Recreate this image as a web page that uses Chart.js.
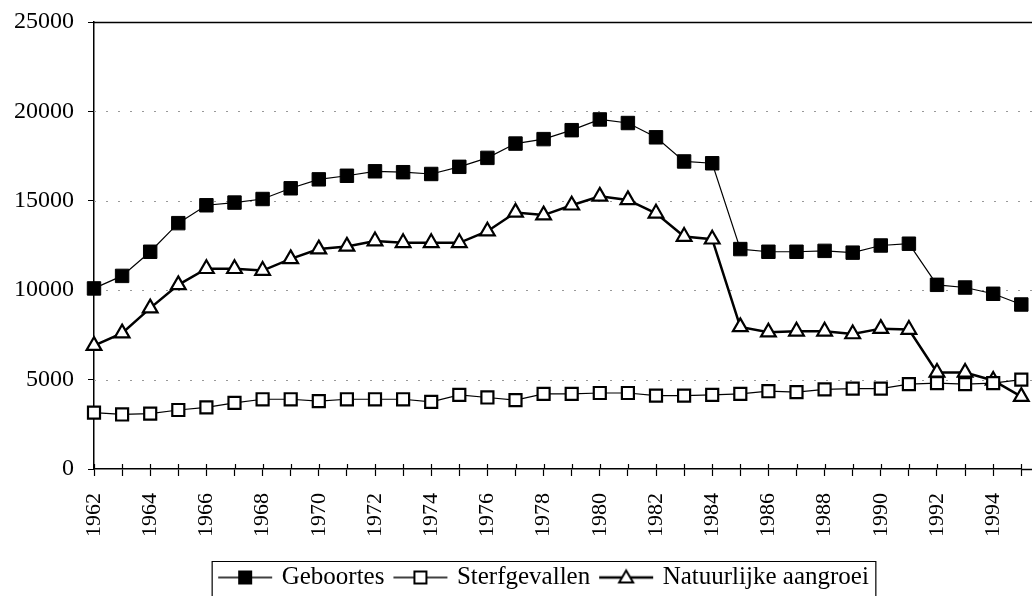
<!DOCTYPE html>
<html>
<head>
<meta charset="utf-8">
<script src="https://cdn.jsdelivr.net/npm/chart.js@4"></script>
<style>
  html, body { margin: 0; padding: 0; background: #fff; overflow: hidden; }
  #wrap { width: 1032px; height: 596px; }
</style>
</head>
<body>
<div id="wrap"><canvas id="lineChart" width="1032" height="596"></canvas></div>
<script>
const years = ['1962', '1963', '1964', '1965', '1966', '1967', '1968', '1969', '1970', '1971', '1972',
    '1973', '1974', '1975', '1976', '1977', '1978', '1979', '1980', '1981', '1982', '1983', '1984',
    '1985', '1986', '1987', '1988', '1989', '1990', '1991', '1992', '1993', '1994', '1995'];

const geboortes = [10100, 10800, 12150, 13750, 14750, 14900, 15100, 15700, 16200, 16400, 16650,
    16600, 16500, 16900, 17400, 18200, 18450, 18950, 19550, 19350, 18550, 17200, 17100,
    12300, 12150, 12150, 12200, 12100, 12500, 12600, 10300, 10150, 9800, 9200];

const sterfgevallen = [3150, 3050, 3100, 3300, 3450, 3700, 3900, 3900, 3800, 3900, 3900,
    3900, 3750, 4150, 4000, 3850, 4200, 4200, 4250, 4250, 4100, 4100, 4150,
    4200, 4350, 4300, 4450, 4500, 4500, 4750, 4800, 4750, 4800, 5000];

const aangroei = [6900, 7600, 9000, 10300, 11200, 11200, 11100, 11750, 12300, 12450, 12750,
    12650, 12650, 12650, 13300, 14350, 14200, 14750, 15250, 15050, 14300, 13000, 12850,
    7950, 7650, 7700, 7700, 7550, 7850, 7800, 5400, 5400, 4950, 4050];

const yTicks = [0, 5000, 10000, 15000, 20000, 25000];

const serif = 'Liberation Serif';

// little legend icons: line with the marker in the middle
function makeIcon(kind) {
    const c = document.createElement('canvas');
    c.width = 60;
    c.height = 22;
    const g = c.getContext('2d');
    g.strokeStyle = '#000';
    g.lineWidth = kind === 'tri' ? 2.5 : 1.5;
    g.beginPath();
    g.moveTo(3, 11);
    g.lineTo(57, 11);
    g.stroke();
    if (kind === 'fill') {
        g.fillStyle = '#000';
        g.fillRect(23, 4, 14, 14);
    } else if (kind === 'open') {
        g.fillStyle = '#fff';
        g.lineWidth = 2;
        g.fillRect(24, 5, 12, 12);
        g.strokeRect(24, 5, 12, 12);
    } else {
        g.fillStyle = '#fff';
        g.lineWidth = 2;
        g.beginPath();
        g.moveTo(30, 4);
        g.lineTo(37, 16);
        g.lineTo(23, 16);
        g.closePath();
        g.fill();
        g.stroke();
    }
    return c;
}

const icons = [makeIcon('fill'), makeIcon('open'), makeIcon('tri')];

// dotted horizontal guides, solid line on top, tick marks above the x axis, legend frame
const guides = {
    id: 'guides',
    afterLayout(chart) {
        const lg = chart.legend;
        lg.left += 30;
        lg.right += 30;
        lg.top += 4;
        lg.bottom += 4;
    },
    beforeDatasetsDraw(chart) {
        const { ctx, chartArea, scales } = chart;
        ctx.save();
        yTicks.forEach(v => {
            if (v === 0) return;
            const y = Math.round(scales.y.getPixelForValue(v)) + 0.5;
            ctx.beginPath();
            if (v === 25000) {
                ctx.setLineDash([]);
                ctx.strokeStyle = '#000';
                ctx.lineWidth = 1.5;
            } else {
                ctx.setLineDash([2, 10]);
                ctx.strokeStyle = '#999';
                ctx.lineWidth = 1;
            }
            ctx.moveTo(chartArea.left, y);
            ctx.lineTo(chart.width, y);
            ctx.stroke();
        });
        ctx.setLineDash([]);
        ctx.strokeStyle = '#000';
        ctx.lineWidth = 1.2;
        years.forEach((yr, i) => {
            const x = Math.round(scales.x.getPixelForValue(i)) + 0.5;
            ctx.beginPath();
            ctx.moveTo(x, chartArea.bottom - 5);
            ctx.lineTo(x, chartArea.bottom);
            ctx.stroke();
        });
        ctx.beginPath();
        ctx.moveTo(chartArea.right, chartArea.bottom + 0.5);
        ctx.lineTo(chart.width, chartArea.bottom + 0.5);
        ctx.lineWidth = 1.5;
        ctx.stroke();
        ctx.restore();
    },
    afterDraw(chart) {
        const boxes = chart.legend.legendHitBoxes;
        if (!boxes || !boxes.length) return;
        const first = boxes[0];
        const last = boxes[boxes.length - 1];
        const ctx = chart.ctx;
        const x0 = first.left - 9;
        const x1 = last.left + last.width + 7;
        const y0 = Math.round(first.top - 4) + 0.5;
        ctx.save();
        ctx.strokeStyle = '#000';
        ctx.lineWidth = 1.2;
        ctx.beginPath();
        ctx.moveTo(x0, chart.height + 2);
        ctx.lineTo(x0, y0);
        ctx.lineTo(x1, y0);
        ctx.lineTo(x1, chart.height + 2);
        ctx.stroke();
        ctx.restore();
    }
};

const ctx = document.getElementById('lineChart').getContext('2d');
const myChart = new Chart(ctx, {
    type: 'line',
    data: {
        labels: years,
        datasets: [{
            label: 'Geboortes',
            data: geboortes,
            borderColor: '#000',
            borderWidth: 1.2,
            pointStyle: 'rect',
            pointRadius: 9.5,
            pointBackgroundColor: '#000',
            pointBorderColor: '#000',
            pointBorderWidth: 1,
            clip: 12
        }, {
            label: 'Sterfgevallen',
            data: sterfgevallen,
            borderColor: '#000',
            borderWidth: 1.2,
            pointStyle: 'rect',
            pointRadius: 8.5,
            pointBackgroundColor: '#fff',
            pointBorderColor: '#000',
            pointBorderWidth: 2.2,
            clip: 12
        }, {
            label: 'Natuurlijke aangroei',
            data: aangroei,
            borderColor: '#000',
            borderWidth: 2.5,
            pointStyle: 'triangle',
            pointRadius: 8.5,
            pointBackgroundColor: '#fff',
            pointBorderColor: '#000',
            pointBorderWidth: 2.2,
            clip: 12
        }]
    },
    options: {
        responsive: false,
        animation: false,
        layout: {
            padding: { left: 0, right: 2, top: 22, bottom: 0 }
        },
        plugins: {
            tooltip: { enabled: false },
            legend: {
                position: 'bottom',
                labels: {
                    usePointStyle: true,
                    pointStyleWidth: 48,
                    color: '#000',
                    padding: 12,
                    font: { family: serif, size: 25 },
                    generateLabels(chart) {
                        return chart.data.datasets.map((ds, i) => ({
                            text: ds.label,
                            pointStyle: icons[i],
                            fillStyle: '#000',
                            strokeStyle: '#000',
                            lineWidth: 0,
                            fontColor: '#000',
                            hidden: false,
                            datasetIndex: i
                        }));
                    }
                }
            }
        },
        scales: {
            x: {
                offset: false,
                afterFit(scale) {
                    scale.paddingLeft = 0;
                    scale.paddingRight = 0;
                    scale.height = 80;
                },
                grid: {
                    drawOnChartArea: false,
                    drawTicks: true,
                    tickLength: 7,
                    tickWidth: 1.2,
                    tickColor: '#000'
                },
                border: { color: '#000', width: 1.5 },
                ticks: {
                    autoSkip: false,
                    maxRotation: 90,
                    minRotation: 90,
                    color: '#000',
                    padding: 17,
                    font: { family: serif, size: 22 },
                    callback: function(val, i) {
                        const y = parseInt(years[i]);
                        return y % 2 === 0 ? years[i] : '';
                    }
                }
            },
            y: {
                min: 0,
                max: 25000,
                afterBuildTicks(scale) {
                    scale.ticks = yTicks.map(v => ({ value: v }));
                },
                afterFit(scale) {
                    scale.width = 94;
                    scale.paddingTop = 0;
                    scale.paddingBottom = 0;
                },
                grid: {
                    drawOnChartArea: false,
                    drawTicks: true,
                    tickLength: 6,
                    tickColor: '#000'
                },
                border: { color: '#000', width: 1.5 },
                ticks: {
                    color: '#000',
                    padding: 14,
                    font: { family: serif, size: 24 },
                    callback: v => String(v)
                }
            }
        }
    },
    plugins: [guides]
});
</script>
</body>
</html>
